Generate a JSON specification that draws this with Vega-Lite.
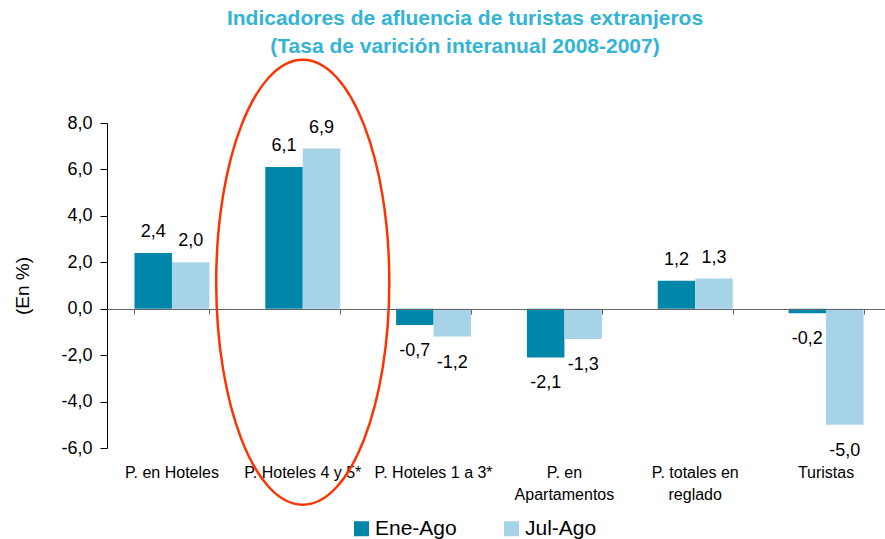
{
  "$schema": "https://vega.github.io/schema/vega-lite/v6.json",
  "width": 778,
  "height": 325,
  "autosize": {"type": "none"},
  "padding": {"left": 107, "top": 123, "right": 0, "bottom": 91},
  "background": "white",
  "config": {
    "view": {"stroke": null},
    "font": "Liberation Sans",
    "locale": {"number": {"decimal": ",", "thousands": ".", "grouping": [3], "currency": ["", "€"], "minus": "-"}}
  },
  "title": {
    "text": ["Indicadores de afluencia de turistas extranjeros", "(Tasa de varición interanual 2008-2007)"],
    "color": "#33b4d4",
    "fontSize": 21,
    "fontWeight": "bold",
    "font": "Liberation Sans",
    "lineHeight": 28,
    "anchor": "middle",
    "frame": "group",
    "dx": -31,
    "offset": -2
  },
  "datasets": {
    "bars": [
      {"cat": "P. en Hoteles", "serie": "Ene-Ago", "value": 2.4},
      {"cat": "P. en Hoteles", "serie": "Jul-Ago", "value": 2.0},
      {"cat": "P. Hoteles 4 y 5*", "serie": "Ene-Ago", "value": 6.1},
      {"cat": "P. Hoteles 4 y 5*", "serie": "Jul-Ago", "value": 6.9},
      {"cat": "P. Hoteles 1 a 3*", "serie": "Ene-Ago", "value": -0.7},
      {"cat": "P. Hoteles 1 a 3*", "serie": "Jul-Ago", "value": -1.2},
      {"cat": "P. en Apartamentos", "serie": "Ene-Ago", "value": -2.1},
      {"cat": "P. en Apartamentos", "serie": "Jul-Ago", "value": -1.3},
      {"cat": "P. totales en reglado", "serie": "Ene-Ago", "value": 1.2},
      {"cat": "P. totales en reglado", "serie": "Jul-Ago", "value": 1.3},
      {"cat": "Turistas", "serie": "Ene-Ago", "value": -0.2},
      {"cat": "Turistas", "serie": "Jul-Ago", "value": -5.0}
    ],
    "highlight": [
      {"cat": "P. Hoteles 4 y 5*", "value": 1.14}
    ]
  },
  "resolve": {"axis": {"x": "independent"}},
  "layer": [
    {
      "data": {"name": "bars"},
      "mark": {"type": "bar"},
      "encoding": {
        "x": {
          "field": "cat", "type": "nominal", "sort": null,
          "scale": {"range": [0, 784], "paddingInner": 0.427, "paddingOuter": 0.21},
          "axis": {
            "title": null, "domain": false, "ticks": false, "labelAngle": 0,
            "labelFontSize": 16, "labelColor": "#000", "labelPadding": 16,
            "labelLineHeight": 22, "labelOverlap": false, "labelLimit": 0, "labelBaseline": "top",
            "labelExpr": "datum.value == 'P. en Apartamentos' ? ['P. en', 'Apartamentos'] : datum.value == 'P. totales en reglado' ? ['P. totales en', 'reglado'] : datum.value"
          }
        },
        "xOffset": {"field": "serie", "type": "nominal", "sort": ["Ene-Ago", "Jul-Ago"], "scale": {"paddingInner": 0, "paddingOuter": 0}},
        "y": {
          "field": "value", "type": "quantitative",
          "scale": {"domain": [-6, 8], "nice": false, "zero": false},
          "axis": {
            "values": [-6, -4, -2, 0, 2, 4, 6, 8], "format": ".1f", "grid": false,
            "domainColor": "#000", "tickColor": "#000", "tickSize": 7, "labelPadding": 8,
            "labelFontSize": 18, "labelColor": "#000",
            "title": "(En %)", "titleFontSize": 19, "titleFontWeight": "normal", "titleColor": "#000", "titlePadding": 28
          }
        },
        "color": {
          "field": "serie", "type": "nominal",
          "scale": {"domain": ["Ene-Ago", "Jul-Ago"], "range": ["#0086a9", "#a6d3e8"]},
          "legend": {
            "orient": "none", "legendX": 244, "legendY": 395, "direction": "horizontal", "title": null,
            "symbolType": "square", "symbolSize": 225, "symbolStrokeWidth": 0, "symbolOpacity": 1,
            "labelFontSize": 21, "labelColor": "#000", "labelOffset": 3, "columnPadding": 44
          }
        }
      }
    },
    {
      "data": {"name": "bars"},
      "transform": [{"filter": "datum.value >= 0"}],
      "mark": {"type": "text", "fontSize": 18, "color": "#000", "baseline": "alphabetic", "dy": -16},
      "encoding": {
        "x": {"field": "cat", "type": "nominal", "sort": null, "axis": null},
        "xOffset": {"field": "serie", "type": "nominal", "sort": ["Ene-Ago", "Jul-Ago"]},
        "y": {"field": "value", "type": "quantitative"},
        "text": {"field": "value", "type": "quantitative", "format": ".1f"}
      }
    },
    {
      "data": {"name": "bars"},
      "transform": [{"filter": "datum.value < 0"}],
      "mark": {"type": "text", "fontSize": 18, "color": "#000", "baseline": "alphabetic", "dy": 31},
      "encoding": {
        "x": {
          "field": "cat", "type": "nominal", "sort": null,
          "axis": {
            "orient": "bottom", "offset": -139, "labels": false, "title": null, "grid": false,
            "domain": true, "domainColor": "#666", "domainWidth": 1.2,
            "ticks": true, "tickSize": 5, "tickColor": "#666", "tickBand": "extent", "zindex": 1
          }
        },
        "xOffset": {"field": "serie", "type": "nominal", "sort": ["Ene-Ago", "Jul-Ago"]},
        "y": {"field": "value", "type": "quantitative"},
        "text": {"field": "value", "type": "quantitative", "format": ".1f"}
      }
    },
    {
      "data": {"name": "highlight"},
      "mark": {
        "type": "point", "filled": false, "stroke": "#ff3300", "strokeWidth": 2.5, "opacity": 1,
        "shape": "M-0.389,0 A0.389,1 0 1,0 0.389,0 A0.389,1 0 1,0 -0.389,0 Z",
        "size": 198025
      },
      "encoding": {
        "x": {"field": "cat", "type": "nominal", "sort": null, "axis": null},
        "y": {"field": "value", "type": "quantitative"}
      }
    }
  ]
}
